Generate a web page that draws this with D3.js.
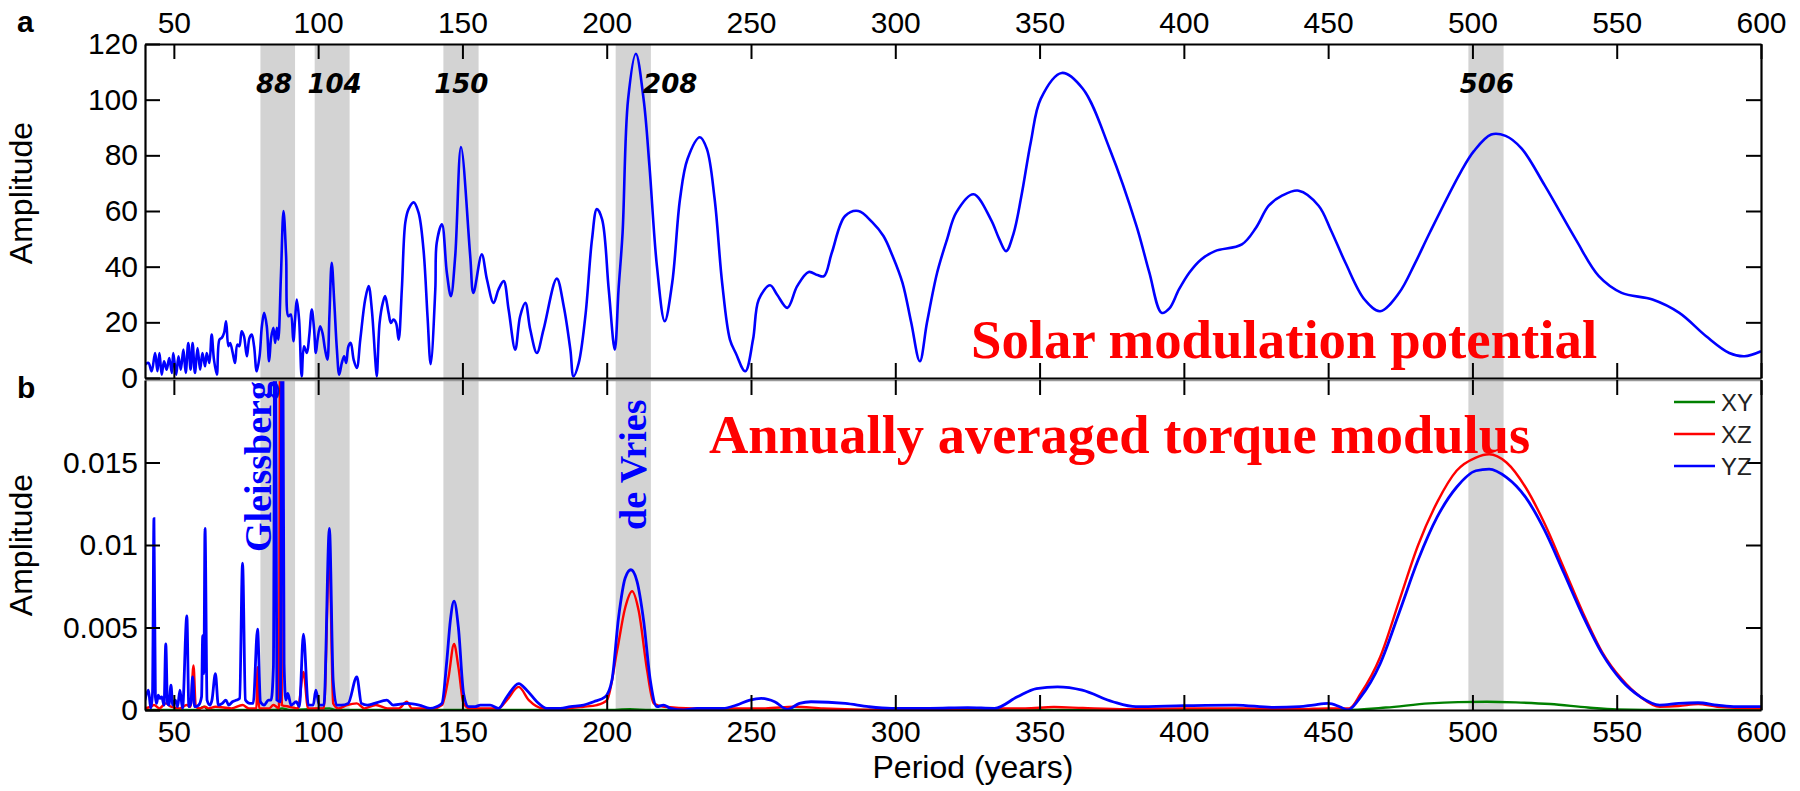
<!DOCTYPE html>
<html>
<head>
<meta charset="utf-8">
<script src="https://cdn.jsdelivr.net/npm/d3@7"></script>
<style>
  body { margin: 0; background: #fff; }
  svg text { font-family: "Liberation Sans", Arial, sans-serif; }
</style>
</head>
<body>
<svg id="chart"></svg>
<script>
// ---- data: [period (years), amplitude] ----
const solarModulation = [
  [40.0,4.8],[41.2,5.4],[42.3,2.4],[43.5,9.0],[44.3,2.4],[45.0,9.0],[45.8,1.2],[46.6,6.0],[47.5,3.0],[48.4,7.2],
  [49.3,1.8],[49.8,9.0],[50.8,1.2],[51.6,7.8],[52.4,3.0],[53.3,10.2],[54.1,1.8],[55.0,12.6],[55.8,3.0],[56.5,12.6],
  [57.3,1.8],[58.2,10.8],[59.1,3.0],[59.9,9.0],[60.8,4.2],[61.4,9.0],[62.3,5.4],[63.1,15.6],[63.9,6.6],[64.9,1.2],
  [65.8,13.8],[66.6,14.4],[67.4,16.2],[68.1,20.4],[68.9,11.4],[69.5,12.6],[70.4,9.0],[71.2,5.4],[72.0,12.0],[72.7,11.4],
  [73.5,16.8],[74.3,15.0],[75.3,7.8],[76.2,14.4],[77.0,15.6],[77.8,11.4],[78.7,2.4],[79.7,7.8],[80.5,18.6],[81.3,23.4],
  [82.2,18.6],[83.0,6.0],[83.7,14.4],[84.5,18.0],[85.1,12.6],[85.7,18.0],[86.2,13.8],[87.1,36.6],[88.0,60.0],[88.9,43.8],
  [89.7,22.2],[90.5,22.8],[91.4,13.2],[92.0,21.0],[92.6,28.2],[93.4,21.0],[94.3,0.6],[95.1,11.4],[96.1,9.0],[96.9,15.0],
  [97.8,24.6],[98.6,17.4],[99.2,9.0],[99.8,13.8],[100.7,18.6],[101.5,16.2],[102.4,10.2],[103.2,6.6],[103.9,22.2],[104.7,41.4],
  [105.6,27.0],[106.5,10.2],[107.3,1.2],[108.2,5.4],[109.0,7.8],[109.7,5.4],[110.5,11.4],[111.3,12.6],[112.3,6.6],[113.4,3.6],
  [114.6,13.8],[116.3,28.2],[117.5,33.0],[118.6,24.6],[119.8,6.6],[120.3,0.6],[121.3,19.8],[122.4,27.0],[123.2,29.4],[124.4,23.4],
  [125.2,19.8],[126.1,21.0],[127.0,19.8],[127.9,13.8],[129.0,31.8],[130.2,55.8],[131.3,60.6],[133.1,63.1],[134.8,59.4],[136.5,46.2],
  [137.9,22.2],[139.0,5.0],[140.6,31.8],[141.1,48.6],[142.9,55.2],[144.6,37.8],[146.0,29.4],[147.5,43.8],[149.5,83.0],[152.7,43.8],
  [153.8,30.6],[156.7,44.4],[158.5,35.4],[160.8,27.0],[162.5,31.8],[164.3,34.8],[166.0,24.6],[168.3,10.2],[170.0,22.2],[171.8,27.0],
  [173.5,17.4],[175.8,9.0],[178.1,17.4],[182.7,35.7],[185.1,25.8],[187.4,10.2],[188.5,0.6],[190.3,5.4],[192.6,22.2],[194.9,49.8],
  [196.6,60.7],[198.4,57.0],[200.7,31.8],[202.8,10.2],[204.1,31.8],[205.5,52.2],[207.4,100.0],[210.1,116.5],[212.8,100.0],[214.8,76.3],
  [217.4,40.2],[220.1,20.4],[222.7,34.2],[225.4,64.3],[228.0,78.7],[232.3,86.5],[234.7,82.3],[237.4,64.3],[240.0,34.2],[242.7,13.8],
  [244.7,9.0],[248.0,2.4],[250.7,13.8],[252.7,28.2],[256.6,33.3],[259.0,30.0],[262.6,25.2],[266.0,33.0],[270.0,38.1],[273.0,37.0],
  [275.3,36.6],[278.0,45.0],[282.6,58.2],[287.2,60.0],[292.0,56.0],[295.9,51.0],[299.0,44.0],[302.5,34.2],[305.5,20.0],[308.5,6.0],
  [311.0,20.0],[314.5,37.8],[318.0,50.0],[321.1,59.4],[327.1,66.0],[333.1,57.0],[336.0,50.0],[338.4,45.6],[341.0,52.0],[343.7,65.4],
  [347.0,85.0],[350.4,100.3],[357.7,109.6],[365.0,103.9],[374.3,82.3],[383.6,54.6],[388.0,38.0],[392.3,23.4],[395.0,25.0],[398.3,31.8],
  [402.0,38.0],[406.0,42.6],[410.8,45.6],[420.1,48.0],[425.0,54.0],[429.4,61.9],[434.0,65.5],[439.8,67.3],[446.7,61.9],[451.0,53.0],
  [456.0,41.4],[462.6,28.2],[468.0,24.0],[474.6,30.6],[480.0,41.0],[485.2,52.2],[495.9,73.9],[500.5,81.5],[506.5,87.5],[511.5,87.0],
  [517.0,82.5],[525.1,69.1],[535.8,49.8],[543.8,36.6],[551.7,30.6],[562.4,28.2],[571.7,23.4],[581.0,15.0],[589.0,9.0],[594.3,7.8],
  [600.0,9.6]
];

const torqueXY = [
  [40,0],[58,0],[60.5,0.0002],[62,0],[85,0],[87.5,0.0001],[90,0],[103.9,0.0001],[106,0],[200,0],[208,0.00005],[215,0],
  [455,0],[470,0.00015],[485,0.0004],[495,0.00048],[505,0.0005],[515,0.00046],[527,0.00036],[540,0.00015],[550,0.00003],[560,0],[600,0]
];

const torqueXZ = [
  [40,0.0001],[42,0.0002],[43.1,0.0003],[45,0.0001],[47.2,0.0004],[49,0.0002],[52,0.0001],[54.5,0.0003],[55.8,0.0002],[56.8,0.0027],
  [57.6,0.0002],[59,0.0001],[60.8,0.0002],[62,0.0001],[64.4,0.0002],[70,0.0001],[73.8,0.0003],[76,0.0001],[78.6,0.0001],[79,0.0026],
  [79.6,0.0001],[83,0.0001],[84.5,0.0003],[85.5,0.0002],[86.4,0.0001],[86.9,0.03],[87.4,0.0003],[90,0.0002],[93,0.0001],[94.9,0.0023],
  [96.5,0.0001],[99,0.0001],[102,0.0001],[103.9,0.0095],[105.2,0.0004],[107,0.0001],[110,0.0003],[113.4,0.0004],[116,0.0001],[120,0.0003],
  [124,0.0001],[128,0.0001],[130.7,0.0005],[132.5,0.0001],[136,0.0001],[140,0.0001],[142.9,0.0003],[145.2,0.002],[147.1,0.004],[148.6,0.0026],
  [150.4,0.0004],[152.5,0.0001],[156,0.0001],[160,0.0001],[162.5,0.0001],[165.4,0.0006],[169.5,0.0014],[173,0.0006],[178,0.0001],[185,0.0001],
  [192,0.0002],[196.6,0.0003],[200.1,0.0006],[203.6,0.0036],[206.4,0.0062],[208.8,0.0072],[211.1,0.006],[214,0.0024],[216.3,0.0004],[220,0.0002],
  [230,0.0001],[245,0.0001],[255,0.0001],[265,0.0002],[275,0.0001],[300,0],[330,0.0001],[345,0.0001],[355,0.00018],[365,0.00012],
  [380,0.00005],[400,0.0001],[420,0.0001],[440,0.00005],[450,0.0001],[457.3,0.0001],[461.3,0.001],[468,0.0032],[474.6,0.0066],[481.2,0.01],
  [487.8,0.0126],[494.5,0.0145],[501.2,0.0153],[505.8,0.0155],[511.8,0.015],[518.4,0.0135],[525,0.0113],[531.7,0.0086],[538.3,0.0059],[545,0.0035],
  [551.6,0.0019],[558.2,0.0008],[564.9,0.0002],[571.5,0.00024],[578.2,0.00036],[584.8,0.0002],[600,0.0001]
];

const torqueYZ = [
  [40,0.0006],[41.2,0.0012],[42,0.0001],[42.6,0.001],[43.1,0.0116],[43.6,0.0008],[44,0.0004],[44.6,0.0009],[45.2,0.0007],[45.8,0.0008],
  [46.6,0.0003],[47.2,0.004],[47.8,0.0004],[48.3,0.0003],[49,0.0015],[49.6,0.0003],[50.5,0.0006],[51.3,0.0002],[52.1,0.0012],[53,0.0001],
  [54.5,0.0057],[55.2,0.0002],[55.9,0.0004],[56.5,0.002],[57.2,0.0002],[58.6,0.0003],[59.6,0.0008],[60.0,0.0045],[60.4,0.0022],[60.8,0.011],
  [61.5,0.0006],[62.5,0.0003],[63.2,0.0006],[64.4,0.0022],[65.4,0.0003],[66.8,0.0004],[68,0.0006],[69,0.0003],[70.3,0.0005],[71.8,0.0006],
  [72.8,0.0007],[73.8,0.0089],[74.8,0.0006],[76.3,0.0004],[77.5,0.0004],[79,0.0049],[80,0.0005],[81.3,0.0003],[82.8,0.0006],[83.7,0.0006],
  [84.5,0.0026],[85.1,0.03],[85.7,0.0006],[86.9,0.0005],[87.6,0.03],[88.2,0.0028],[88.8,0.0006],[89.5,0.001],[90.6,0.0003],[92.4,0.0005],
  [93.5,0.0002],[94.9,0.0046],[96.6,0.0003],[98.3,0.0003],[99.2,0.0012],[100.4,0.0003],[102,0.0003],[103.9,0.011],[105.2,0.0018],[106.4,0.0003],
  [108,0.0003],[110.4,0.0004],[113.4,0.002],[115,0.0004],[117,0.0003],[119.5,0.0004],[123.8,0.0006],[126,0.0003],[131,0.0004],[135,0.0003],
  [138.8,0.0001],[141,0.0002],[142.9,0.0004],[144.6,0.003],[145.8,0.0054],[147.1,0.0066],[148.6,0.005],[150.4,0.001],[152.1,0.0002],[154.4,0.0002],
  [156.2,0.0003],[159.6,0.0003],[162.5,0.0001],[165.4,0.0008],[169.5,0.0016],[172.3,0.0012],[175.8,0.0005],[179.3,0.0001],[183.9,0.0001],[187.4,0.0002],
  [192,0.0003],[195.5,0.0005],[199.5,0.0008],[201.8,0.0018],[204.1,0.0056],[206.4,0.008],[208.4,0.0085],[210.5,0.0078],[212.8,0.0054],[215.1,0.0018],
  [217.4,0.0002],[219.7,0.0003],[222.1,0.0001],[226.7,0],[231.3,0.0001],[237.1,0.0001],[240.3,0.0001],[245,0.0003],[249.6,0.0006],[253.6,0.0007],
  [258.2,0.0005],[262.6,0.00004],[266.8,0.0004],[270.8,0.0005],[282.7,0.0004],[290.7,0.0002],[298.6,0.0001],[311.9,0.0001],[325.1,0.00014],[334.4,0.0001],
  [342.3,0.0008],[348.9,0.0013],[356.2,0.0014],[364.8,0.0012],[375.4,0.0005],[383.4,0.0002],[400,0.00026],[417.8,0.0003],[431.1,0.00016],[440.1,0.0002],
  [444.8,0.0003],[450,0.0004],[454,0.0002],[456.8,0],[461.3,0.0008],[468,0.0028],[474.6,0.0059],[481.2,0.0091],[487.8,0.0117],[494.5,0.0135],
  [501.2,0.0145],[505.8,0.0146],[511.8,0.0141],[518.4,0.0129],[525,0.0109],[531.7,0.0083],[538.3,0.0057],[545,0.0034],[551.6,0.0018],[558.2,0.0008],
  [564.9,0.0003],[571.5,0.0004],[578.2,0.00044],[584.8,0.0003],[591.4,0.0002],[600,0.0002]
];

// shaded period bands and their labels
const bandStart = [80, 98.8, 143.4, 203.1, 498.6];
const bandEnd   = [92, 110.9, 155.6, 215.3, 510.8];
const bandLabels = ["88", "104", "150", "208", "506"];
const bandLabelAt = [84.7, 105.7, 149.6, 222, 505];

const periodTicks = [50, 100, 150, 200, 250, 300, 350, 400, 450, 500, 550, 600];
const ampTicksA = [0, 20, 40, 60, 80, 100, 120];
const ampTicksB = [0, 0.005, 0.01, 0.015];

const seriesNames = ["XY", "XZ", "YZ"];
const seriesData = [torqueXY, torqueXZ, torqueYZ];
const seriesColors = ["#008000", "#ff0000", "#0000ff"];

// ---- layout ----
const width = 1800, height = 791;
const X0 = 145, X1 = 1761;
const A_TOP = 44, A_BOT = 378, B_TOP = 380, B_BOT = 710;
const TICK = 15;

const svg = d3.select("#chart").attr("width", width).attr("height", height);

const x = d3.scaleLinear().domain([40, 600]).range([X0, X1]);
const yA = d3.scaleLinear().domain([0, 120]).range([A_BOT, A_TOP]);
const yB = d3.scaleLinear().domain([0, 0.02]).range([B_BOT, B_TOP]);

const defs = svg.append("defs");
defs.append("clipPath").attr("id", "clipA").append("rect")
    .attr("x", X0).attr("y", A_TOP).attr("width", X1 - X0).attr("height", A_BOT - A_TOP);
defs.append("clipPath").attr("id", "clipB").append("rect")
    .attr("x", X0).attr("y", B_TOP).attr("width", X1 - X0).attr("height", B_BOT - B_TOP);

const bands = d3.range(bandStart.length);

// grey bands in both panels
[[A_TOP, A_BOT], [B_TOP, B_BOT]].forEach(function (r) {
    svg.append("g").selectAll("rect")
        .data(bands)
        .enter().append("rect")
        .attr("x", i => x(bandStart[i]))
        .attr("width", i => x(bandEnd[i]) - x(bandStart[i]))
        .attr("y", r[0])
        .attr("height", r[1] - r[0])
        .attr("fill", "#d3d3d3");
});

// panel a curve (smooth spline through the read points)
const lineA = d3.line()
    .x(d => x(d[0]))
    .y(d => yA(d[1]))
    .curve(d3.curveCatmullRom.alpha(0.5));

svg.append("path")
    .datum(solarModulation)
    .attr("clip-path", "url(#clipA)")
    .attr("d", lineA)
    .attr("fill", "none")
    .attr("stroke", "#0000ff")
    .attr("stroke-width", 2.6);

// panel b curves
const lineB = d3.line()
    .x(d => x(d[0]))
    .y(d => yB(d[1]))
    .curve(d3.curveMonotoneX);

svg.append("g").attr("clip-path", "url(#clipB)")
    .selectAll("path")
    .data(seriesData)
    .enter().append("path")
    .attr("d", lineB)
    .attr("fill", "none")
    .attr("stroke", (d, i) => seriesColors[i])
    .attr("stroke-width", (d, i) => i === 2 ? 2.8 : 2.4);

// ---- axes ----
function styleAxis(g, gray) {
    g.selectAll(".domain").attr("stroke", gray ? "#999" : "#000").attr("stroke-width", gray ? 1.5 : 2.2);
    g.selectAll(".tick line").attr("stroke", "#000").attr("stroke-width", 2);
    g.selectAll(".tick text").attr("font-size", 30).attr("fill", "#000")
        .attr("font-family", "'Liberation Sans', Arial, sans-serif");
}

svg.append("g").attr("transform", `translate(0,${A_TOP})`)
    .call(d3.axisTop(x).tickValues(periodTicks).tickSize(-TICK).tickSizeOuter(0).tickPadding(11))
    .call(styleAxis);
svg.append("g").attr("transform", `translate(0,${B_TOP})`)
    .call(d3.axisTop(x).tickValues(periodTicks).tickSize(-TICK).tickSizeOuter(0).tickFormat(""))
    .call(g => styleAxis(g, true));
svg.append("g").attr("transform", `translate(0,${A_BOT})`)
    .call(d3.axisBottom(x).tickValues(periodTicks).tickSize(-TICK).tickSizeOuter(0).tickFormat(""))
    .call(styleAxis);
svg.append("g").attr("transform", `translate(0,${B_BOT})`)
    .call(d3.axisBottom(x).tickValues(periodTicks).tickSize(-TICK).tickSizeOuter(0).tickPadding(11))
    .call(styleAxis);

svg.append("g").attr("transform", `translate(${X0},0)`)
    .call(d3.axisLeft(yA).tickValues(ampTicksA).tickSize(-TICK).tickSizeOuter(0).tickPadding(7))
    .call(styleAxis);
svg.append("g").attr("transform", `translate(${X1},0)`)
    .call(d3.axisRight(yA).tickValues(ampTicksA.slice(1, -1)).tickSize(-TICK).tickSizeOuter(0).tickFormat(""))
    .call(styleAxis);
svg.append("g").attr("transform", `translate(${X0},0)`)
    .call(d3.axisLeft(yB).tickValues(ampTicksB).tickSize(-TICK).tickSizeOuter(0).tickPadding(7)
        .tickFormat(d => String(d)))
    .call(styleAxis);
svg.append("g").attr("transform", `translate(${X1},0)`)
    .call(d3.axisRight(yB).tickValues(ampTicksB.slice(1)).tickSize(-TICK).tickSizeOuter(0).tickFormat(""))
    .call(styleAxis);

// ---- labels ----
svg.append("text").attr("x", 17).attr("y", 32).attr("font-size", 30).attr("font-weight", "bold").text("a");
svg.append("text").attr("x", 17).attr("y", 398).attr("font-size", 30).attr("font-weight", "bold").text("b");

[193, 545].forEach(function (cy) {
    svg.append("text")
        .attr("transform", `translate(32,${cy}) rotate(-90)`)
        .attr("text-anchor", "middle")
        .attr("font-size", 32)
        .text("Amplitude");
});

svg.append("text")
    .attr("x", 973).attr("y", 778)
    .attr("text-anchor", "middle")
    .attr("font-size", 32)
    .text("Period (years)");

svg.append("g").selectAll("text")
    .data(bands)
    .enter().append("text")
    .attr("x", i => x(bandLabelAt[i]))
    .attr("y", 93)
    .attr("text-anchor", "middle")
    .style("font-family", "'DejaVu Sans', Verdana, sans-serif")
    .style("font-weight", "bold")
    .style("font-style", "italic")
    .style("font-size", "26px")
    .text(i => bandLabels[i]);

const serif = "'Liberation Serif', 'Times New Roman', serif";
svg.append("text")
    .attr("x", 971).attr("y", 358)
    .style("font-family", serif).style("font-weight", "bold").style("font-size", "54.8px")
    .attr("fill", "#ff0000")
    .text("Solar modulation potential");
svg.append("text")
    .attr("x", 709).attr("y", 453)
    .style("font-family", serif).style("font-weight", "bold").style("font-size", "54.5px")
    .attr("fill", "#ff0000")
    .text("Annually averaged torque modulus");

svg.append("text")
    .attr("transform", "translate(271,552) rotate(-90)")
    .style("font-family", serif).style("font-weight", "bold").style("font-size", "38px")
    .attr("fill", "#0000ff")
    .text("Gleissberg");
svg.append("text")
    .attr("transform", "translate(646,530) rotate(-90)")
    .style("font-family", serif).style("font-weight", "bold").style("font-size", "38px")
    .attr("fill", "#0000ff")
    .text("de Vries");

// legend
const legend = svg.append("g").selectAll("g")
    .data(seriesNames)
    .enter().append("g")
    .attr("transform", (d, i) => `translate(1674,${402 + i * 32})`);
legend.append("line")
    .attr("x1", 0).attr("x2", 41)
    .attr("stroke", (d, i) => seriesColors[i])
    .attr("stroke-width", 2.6);
legend.append("text")
    .attr("x", 47).attr("dy", "0.36em")
    .attr("font-size", 24)
    .attr("fill", "#222")
    .text(d => d);
</script>
</body>
</html>
